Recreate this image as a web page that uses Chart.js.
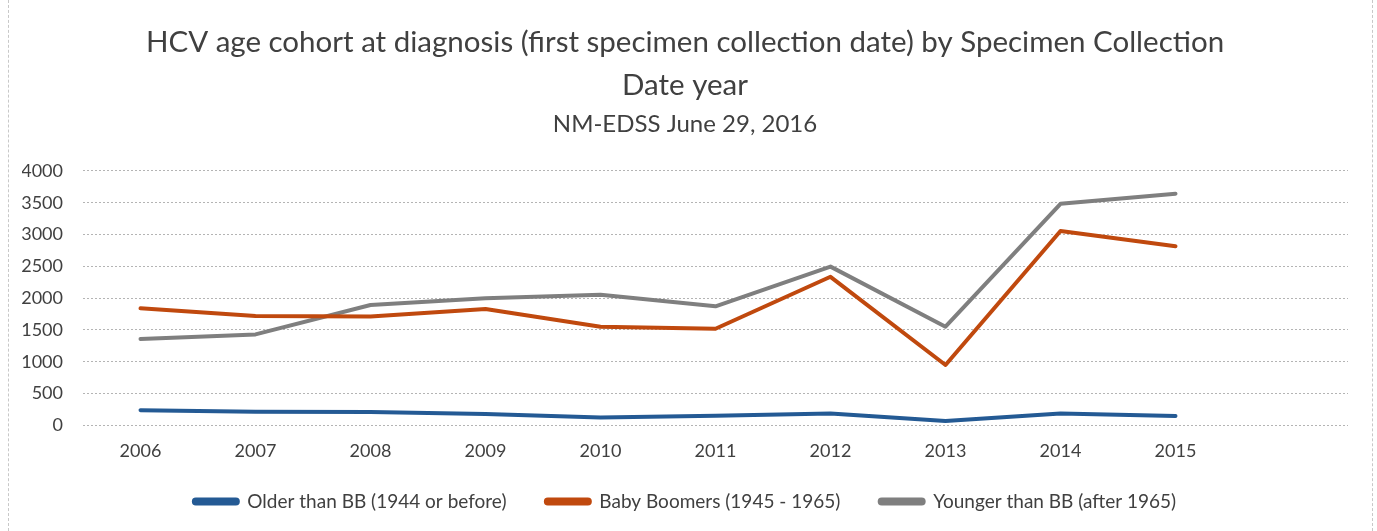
<!DOCTYPE html>
<html>
<head>
<meta charset="utf-8">
<script src="https://cdn.jsdelivr.net/npm/chart.js@4/dist/chart.umd.min.js"></script>
<style>
html,body{margin:0;padding:0;background:#fff;}
#wrap{position:relative;width:1377px;height:531px;}
#frame{position:absolute;left:8px;top:0;width:1365px;height:531px;border-left:1px dashed #c8c8c8;border-right:1px dashed #c8c8c8;box-sizing:border-box;pointer-events:none;}
canvas{display:block;}
</style>
</head>
<body>
<div id="wrap">
<canvas id="c" width="1377" height="531"></canvas>
<div id="frame"></div>
</div>
<script>
const categories = ['2006','2007','2008','2009','2010','2011','2012','2013','2014','2015',''];
const olderThanBB = [240, 215, 210, 180, 123, 150, 187, 69, 187, 149];
const babyBoomers = [1840, 1720, 1712, 1830, 1550, 1520, 2336, 950, 3056, 2816];
const youngerThanBB = [1360, 1430, 1893, 2000, 2053, 1872, 2496, 1552, 3483, 3643];
const yTicks = [0, 500, 1000, 1500, 2000, 2500, 3000, 3500, 4000];

const FONT = "Lato, 'Open Sans', sans-serif";
Chart.defaults.font.family = FONT;
Chart.defaults.color = '#404040';

function ds(label, data, color){
  return {label, data, borderColor: color, backgroundColor: color, borderWidth: 4,
    pointRadius: 0, pointHoverRadius: 0, tension: 0, fill: false, borderCapStyle: 'round', borderJoinStyle: 'round'};
}

const chart = new Chart(document.getElementById('c'), {
  type: 'line',
  data: {
    labels: categories,
    datasets: [
      ds('Older than BB (1944 or before)', olderThanBB, '#245a94'),
      ds('Baby Boomers (1945 - 1965)', babyBoomers, '#c0490e'),
      ds('Younger than BB (after 1965)', youngerThanBB, '#7f7f7f')
    ]
  },
  options: {
    responsive: false,
    animation: false,
    layout: {padding: {left: 22, right: 29, top: 21, bottom: 10}},
    plugins: {
      title: {
        display: true,
        text: ['HCV age cohort at diagnosis (first specimen collection date) by Specimen Collection', 'Date year'],
        color: '#404040',
        font: {size: 29.5, weight: 'normal', lineHeight: 1.46},
        padding: {top: 0, bottom: 0}
      },
      subtitle: {
        display: true,
        text: 'NM-EDSS June 29, 2016',
        color: '#404040',
        font: {size: 24, weight: 'normal', lineHeight: 1.2},
        padding: {top: 3, bottom: 32}
      },
      legend: {
        position: 'bottom',
        labels: {
          boxWidth: 44, boxHeight: 4,
          useBorderRadius: true, borderRadius: 2,
          color: '#404040',
          font: {size: 19},
          padding: 15,
          generateLabels: (c) => {
            const items = Chart.defaults.plugins.legend.labels.generateLabels(c);
            items.forEach((it, i) => { if (i < items.length - 1) it.text = it.text + '     '; });
            return items;
          }
        }
      },
      tooltip: {enabled: false}
    },
    scales: {
      x: {
        offset: true,
        grid: {display: false, drawTicks: false},
        border: {display: false},
        ticks: {font: {size: 18}, color: '#404040', padding: 15, maxRotation: 0, autoSkip: false}
      },
      y: {
        min: 0, max: 4000,
        afterBuildTicks: (axis) => { axis.ticks = yTicks.map(v => ({value: v})); },
        afterFit: (scale) => { scale.width = 61; },
        grid: {color: '#b4b4b4', lineWidth: 1, drawTicks: false},
        border: {display: false, dash: [2, 2]},
        ticks: {font: {size: 18}, color: '#404040', padding: 20, callback: (v) => String(v)}
      }
    }
  }
});
</script>
</body>
</html>
